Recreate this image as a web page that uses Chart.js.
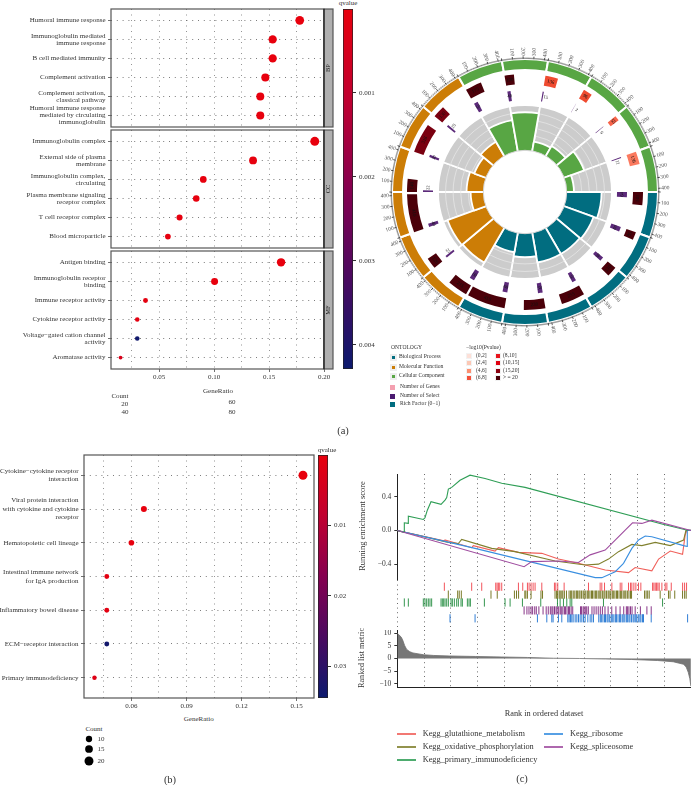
<!DOCTYPE html>
<html><head><meta charset="utf-8">
<script src="https://cdn.jsdelivr.net/npm/chart.js@4"></script>
<style>
html,body{margin:0;padding:0;background:#fff;width:691px;height:785px;overflow:hidden}
#page{position:relative;width:691px;height:785px;overflow:hidden;background:#fff;filter:blur(0.3px)}
canvas{position:absolute}
.t{position:absolute;white-space:pre;font-family:"Liberation Serif",serif;line-height:1;color:#333}
.b{position:absolute}
</style></head><body><div id="page"></div>
<script>
// ---------- panel (a) dot plot ----------
const bpLabels=["Humoral immune response",["Immunoglobulin mediated","immune response"],"B cell mediated immunity","Complement activation",["Complement activation,","classical pathway"],["Humoral immune response","mediated by circulating","immunoglobulin"]];
const ccLabels=["Immunoglobulin complex",["External side of plasma","membrane"],["Immunoglobulin complex,","circulating"],["Plasma membrane signaling","receptor complex"],"T cell receptor complex","Blood microparticle"];
const mfLabels=["Antigen binding",["Immunoglobulin receptor","binding"],"Immune receptor activity","Cytokine receptor activity",["Voltage\u2212gated cation channel","activity"],"Aromatase activity"];
const bpRatio=[0.1779,0.1533,0.1533,0.1466,0.142,0.142];
const ccRatio=[0.1916,0.1354,0.0901,0.0837,0.0685,0.0579];
const mfRatio=[0.1609,0.1004,0.0375,0.03,0.03,0.0148];
const bpCount=[80,69,69,66,64,64];
const ccCount=[86,61,41,38,31,26];
const mfCount=[72,45,17,13,13,7];
const bpQ=[0.00001,0.00001,0.00001,0.00002,0.00002,0.00002];
const ccQ=[0.00001,0.00002,0.00002,0.00003,0.00005,0.00005];
const mfQ=[0.00001,0.00002,0.0001,0.00012,0.0042,0.0004];
const qTicksA=[0.001,0.002,0.003,0.004];
const qMaxA=0.00429;
// ---------- panel (a) GO circle ----------
const ontologyColors=["#016d80","#cc7d06","#58a644"];
const sectorCap=435;
const geneCount=[141,85,110,255,230,410,215,120,410,140,318,130,175,100,136,96,55,136];
const geneColors=["#4b0009","#4b0009","#4b0009","#4b0009","#4b0009","#4b0009","#4b0009","#4b0009","#4b0009","#4b0009","#7a0010","#7a0010","#4b0009","#4b0009","#ef4b30","#ef4b30","#f8644a","#fb7a5f"];
const selectCount=[64,60,50,50,58,60,60,25,40,22,30,25,50,40,15,2,6,11];
const richFactor=[0.77,0.69,0.66,0.66,0.52,0.43,0.88,0.90,0.28,0.37,0.27,0.36,0.69,0.84,0.21,0.25,0.47,0.16];
const richFull=[1,1,1,1,1,1,1,1,1,1,1,1,1,1,1,1,1,1];
const ringTicks=[100,200,300,400];
// ---------- panel (b) ----------
const keggLabels=[["Cytokine\u2212cytokine receptor","interaction"],["Viral protein interaction","with cytokine and cytokine","receptor"],"Hematopoietic cell lineage",["Intestinal immune network","for IgA production"],"Inflammatory bowel disease","ECM\u2212receptor interaction","Primary immunodeficiency"];
const keggRatio=[0.1534,0.0668,0.06,0.0466,0.0466,0.0466,0.0399];
const keggCount=[20,9,8,6,6,6,5];
const keggQ=[0.0001,0.0002,0.0003,0.001,0.001,0.0335,0.002];
const qTicksB=[0.01,0.02,0.03];
const qMaxB=0.0345;
const countLegend=[10,15,20];
const countLegendRow=[0,1,2.2];
// ---------- panel (c) ----------
const gseaNames=["Kegg_glutathione_metabolism","Kegg_oxidative_phosphorylation","Kegg_primary_immunodeficiency","Kegg_ribosome","Kegg_spliceosome"];
const gseaColors=["#f0605a","#80802e","#2f9e56","#3a8fe0","#a04ea0"];
const rugColors=["#f0414a","#6b6b10","#1f8a3c","#7a1f7a","#1a6fd0"];
const redRank=[0,9170,9180,14300,14600,18780,19420,23270,27750,30960,34800,39940,44420,45700,48900,50200,51800,52440,54800,55300,55640,56400];
const redES=[0,-0.126,-0.114,-0.205,-0.18,-0.245,-0.205,-0.26,-0.272,-0.34,-0.39,-0.47,-0.5,-0.44,-0.48,-0.34,-0.272,-0.245,-0.284,-0.055,0,0];
const oliveRank=[0,9800,11730,12370,18140,22630,30320,36090,38650,40580,42500,45060,46990,49550,52440,55000,55450,56400];
const oliveES=[0,-0.142,-0.155,-0.107,-0.213,-0.252,-0.363,-0.41,-0.4,-0.34,-0.252,-0.166,-0.18,-0.142,-0.18,-0.114,0,0];
const greenRank=[0,1346,1350,2115,2120,5000,5320,5770,6475,8400,9170,9490,9810,10450,12050,13975,16860,20060,24550,50830,55960];
const greenES=[0,-0.024,0.09,0.083,0.169,0.13,0.15,0.24,0.34,0.31,0.36,0.39,0.49,0.51,0.595,0.655,0.615,0.56,0.51,0.075,0];
const blueRank=[0,10000,14940,38020,39300,41860,43460,45060,46350,47630,48900,55000,55700,55710,56400];
const blueES=[0,-0.142,-0.213,-0.56,-0.56,-0.49,-0.39,-0.213,-0.114,-0.067,-0.075,-0.18,-0.19,0,0];
const purpleRank=[0,24360,25830,30960,34800,37050,39940,41860,43780,45190,46990,48900,56400];
const purpleES=[0,-0.43,-0.37,-0.363,-0.38,-0.29,-0.233,-0.114,0.004,0.09,0.083,0.122,0];
const redRug=[9040,14290,16220,18910,19170,19420,19680,20060,23270,24100,25000,25320,25700,26090,26470,27760,30190,30450,30830,32050,36730,38970,39290,39810,41220,42820,43140,44420,44810,45060,45450,45830,46340,46790,49040,49290,49550,49810,50060,50320,50830,51470,51790,52630,54810,55190,55570];
const oliveRug=[9800,11600,11900,12300,18000,19200,22500,22900,23300,24500,24700,25000,25700,27600,27900,30300,30600,30800,31100,31300,31600,31800,32100,32500,33000,33300,33500,33800,34100,34400,34600,34900,35100,35400,35700,35900,36200,36500,36700,37000,37300,37500,37800,38100,38300,38600,38900,39100,39400,39700,39900,40200,40500,40700,41000,41300,41500,41800,42100,42300,42600,42900,43100,43400,43700,43900,44200,44500,44800,45000,47500,47800,48100,48400,50500,52100,52400,53300,54800,55200,55500];
const greenRug=[1350,2120,5000,5320,5640,5960,6280,6600,8400,8650,8910,9170,9490,9810,10320,10580,10960,11410,11730,12240,12500,13460,13780,14040,16730,20700,21670,24040,27560,30770,31280,31920,32560,33200,33520,39610,50960];
const purpleRug=[24360,24900,25300,25700,26000,26400,26700,27200,28000,28600,29000,29400,29700,29900,30200,30500,30700,31000,31300,31500,31800,32100,32300,32600,32900,33100,33400,33700,35200,35400,35700,35900,36200,36400,36700,37400,37800,38200,38600,39000,39400,39900,40500,41200,42000,42800,43500,44000,44200,44500,44800,45100,45700,46700,47950,48780];
const blueRug=[10130,14940,26920,28720,29680,29930,30960,31600,32760,33010,33270,33520,33780,34170,34490,34810,35130,35450,35770,36090,36600,37050,37370,37690,38700,39000,39200,39500,39800,40000,40300,40500,40800,41100,41300,41600,41900,42100,42400,42700,42900,43200,43400,43700,44000,44200,44500,44700,45000,45300,45500,45800,46000,46300,46600,46800,47100,47300,48780,55770];
const metricRank=[0,300,700,1000,1400,1800,2400,3000,5000,7000,10000,15000,20000,25000,30000,35000,40000,45000,50000,53000,55000,55500,55900,56200,56400];
const metricValue=[10,9.4,8.6,7.5,5.2,3.6,2.7,2.2,1.5,1.2,1.0,0.8,0.6,0.4,0.1,0,-0.2,-0.4,-0.8,-1.3,-2.3,-3.4,-5.5,-8,-11];
// ---------- legends of the circle ----------
const ontologyNames=["Biological Process","Molecular Function","Cellular Component"];
const ringNames=["Number of Genes","Number of Select","Rich Factor (0\u22121)"];
const ringSwatch=["#f4a0b0","#4a1a70","#016d80"];
const pvalNames=["(0,2]","(2,4]","(4,6]","(6,8]","(8,10]","(10,15]","(15,20]","> = 20"];
const pvalColors=["#fde0d8","#fcc8b5","#fc8f70","#f4503a","#e8141c","#e00010","#8b000f","#4a0008"];

const SERIF='"Liberation Serif",serif';
const page=document.getElementById('page');
Chart.defaults.animation=false;
Chart.defaults.font.family=SERIF;
Chart.defaults.plugins.legend.display=false;
Chart.defaults.plugins.tooltip.enabled=false;
Chart.defaults.events=[];

function noPad(s){s.paddingLeft=0;s.paddingRight=0;s.paddingTop=0;s.paddingBottom=0;s._margins={left:0,right:0,top:0,bottom:0};}
function text(s,x,y,o={}){
  const d=document.createElement('div');d.className='t';d.textContent=s;
  d.style.fontSize=(o.size||7)+'px';
  if(o.color)d.style.color=o.color;
  const ax=o.align==='center'?'-50%':o.align==='right'?'-100%':'0';
  d.style.left=x+'px';d.style.top=y+'px';
  d.style.transform=`translate(${ax},-50%)`+(o.rot?` rotate(${o.rot}deg)`:'');
  d.style.transformOrigin=o.rot?'50% 50%':'';
  page.appendChild(d);return d;
}
function box(x,y,w,h,c,extra){
  const d=document.createElement('div');d.className='b';
  d.style.cssText=`left:${x}px;top:${y}px;width:${w}px;height:${h}px;background:${c};`+(extra||'');
  page.appendChild(d);return d;
}
function cv(left,top,w,h){
  const c=document.createElement('canvas');c.width=Math.round(w);c.height=Math.round(h);
  c.style.left=left+'px';c.style.top=top+'px';c.style.width=Math.round(w)+'px';c.style.height=Math.round(h)+'px';
  page.appendChild(c);return c;
}
const stops=[[0,[232,0,13]],[0.25,[192,0,48]],[0.5,[133,0,80]],[0.75,[74,10,96]],[1,[12,26,110]]];
function qColor(t){
  t=Math.max(0,Math.min(1,t));
  for(let i=1;i<stops.length;i++){
    if(t<=stops[i][0]){
      const a=stops[i-1],b=stops[i],f=(t-a[0])/(b[0]-a[0]);
      const c=a[1].map((v,k)=>Math.round(v+(b[1][k]-v)*f));
      return `rgb(${c[0]},${c[1]},${c[2]})`;
    }
  }
  return 'rgb(12,26,110)';
}
function framePlugin(strip){
  return {id:'frame',afterDraw(ch){
    const a=ch.chartArea,c=ch.ctx;c.save();
    c.strokeStyle='#555';c.lineWidth=1.2;
    c.strokeRect(a.left,a.top,a.width,a.height);
    if(strip){
      c.fillStyle='#b0b0b0';c.fillRect(a.right,a.top,9,a.height);
      c.strokeRect(a.right,a.top,9,a.height);
      c.strokeStyle='#111';c.lineWidth=1;
      c.beginPath();c.moveTo(a.right,a.top);c.lineTo(a.right,a.bottom);c.stroke();
      c.translate(a.right+4.7,(a.top+a.bottom)/2);c.rotate(-Math.PI/2);
      c.fillStyle='#222';c.font='6.5px '+SERIF;c.textAlign='center';c.textBaseline='middle';
      c.fillText(strip,0,0);
    }
    c.restore();
  }};
}
function isMajor(v,m){const r=Math.abs(v/m-Math.round(v/m));return r<1e-6;}
function dotChart(o){
  const rightPad=o.strip?10:2, topPad=2, bottomSpace=o.showX?13:2;
  const c=cv(0,o.top-topPad,Math.ceil(o.right+rightPad),Math.ceil(o.bottom-o.top+topPad+bottomSpace));
  return new Chart(c,{type:'scatter',
    data:{datasets:[{data:o.ratio.map((x,i)=>({x,y:i})),
      pointRadius:o.count.map(o.rad),
      pointBackgroundColor:o.q.map(v=>qColor(v/o.qMax)),
      pointBorderWidth:0,clip:false}]},
    options:{responsive:false,maintainAspectRatio:false,
      layout:{autoPadding:false,padding:{top:topPad,right:rightPad,left:0,bottom:c.height-topPad-(o.bottom-o.top)-bottomSpace}},
      scales:{
        x:{type:'linear',min:o.xMin,max:o.xMax,
          afterFit(s){s.height=bottomSpace;noPad(s);},
          border:{display:false,dash:[1,4.5]},
          grid:{color:'#666',lineWidth:.7,tickLength:3,tickBorderDash:[],drawTicks:true,
            tickColor:t=>(o.showX&&t.tick&&isMajor(t.tick.value,o.major))?'#333':'rgba(0,0,0,0)'},
          ticks:{display:o.showX,stepSize:o.xStep,includeBounds:false,autoSkip:false,maxRotation:0,padding:1,
            color:'#333',font:{size:7,family:SERIF},
            callback:v=>isMajor(v,o.major)?v.toFixed(o.xDigits):''}},
        y:{type:'linear',reverse:true,min:o.yMin,max:o.yMax,
          afterFit(s){s.width=o.left;noPad(s);},
          border:{display:false,dash:[1,4.8]},
          grid:{color:'#444',lineWidth:.7,tickLength:3,tickColor:'#333',tickBorderDash:[]},
          ticks:{stepSize:1,includeBounds:false,autoSkip:false,padding:2.5,color:'#333',
            font:{size:7,family:SERIF,lineHeight:o.lineH},
            callback:v=>o.labels[v]}}
      }},
    plugins:[framePlugin(o.strip)]});
}
function colorBar(x,yTop,yBot,max,ticks,digits){
  const c=cv(x-1,yTop-2,50,Math.ceil(yBot-yTop+4));
  return new Chart(c,{type:'bar',
    data:{labels:[''],datasets:[{data:[[0,max]],barPercentage:1,categoryPercentage:1,
      borderColor:'#222',borderWidth:1,borderSkipped:false,
      backgroundColor(ctx){
        const a=ctx.chart.chartArea;if(!a)return '#e8000d';
        const g=ctx.chart.ctx.createLinearGradient(0,a.top,0,a.bottom);
        stops.forEach(s=>g.addColorStop(s[0],qColor(s[0])));return g;}}]},
    options:{responsive:false,maintainAspectRatio:false,
      layout:{autoPadding:false,padding:{top:2,bottom:2,left:1,right:0}},
      scales:{x:{display:false},
        y:{position:'right',reverse:true,min:0,max:max,
          afterFit(s){s.width=39;noPad(s);},
          afterBuildTicks(s){s.ticks=ticks.map(v=>({value:v}));},
          border:{display:false},
          grid:{drawOnChartArea:false,tickLength:3,tickColor:'#333'},
          ticks:{padding:3,color:'#333',font:{size:7,family:SERIF},callback:v=>v.toFixed(digits)}}}}});
}
// ---- panel a
const radA=c=>0.86+0.393*Math.sqrt(c);
const base={left:111,right:324,xMin:0.0061,xMax:0.2,xStep:0.025,major:0.05,xDigits:2,rad:radA,qMax:qMaxA,lineH:1,yMin:-0.595,yMax:5.6};
dotChart({...base,top:9,bottom:127,labels:bpLabels,ratio:bpRatio,count:bpCount,q:bpQ,strip:'BP',showX:false});
dotChart({...base,top:130,bottom:248,labels:ccLabels,ratio:ccRatio,count:ccCount,q:ccQ,strip:'CC',showX:false});
dotChart({...base,top:251,bottom:369,labels:mfLabels,ratio:mfRatio,count:mfCount,q:mfQ,strip:'MF',showX:true});
colorBar(343,9,369,qMaxA,qTicksA,3);
text('qvalue',348,3,{align:'center',size:7});
text('GeneRatio',218,390.5,{align:'center'});
text('Count',120,395.7,{align:'center'});
text('20',124.7,404,{align:'center'});text('40',125,412.3,{align:'center'});
text('60',232,402.3,{align:'center'});text('80',232,412,{align:'center'});
text('(a)',343,431,{align:'center',size:10.5});

// ---- circle: wedges
const polarCanvas=cv(438,105,174,174);
new Chart(polarCanvas,{type:'polarArea',
  data:{labels:richFactor.map((_,i)=>i),datasets:[
    {data:richFactor,backgroundColor:richFactor.map((_,i)=>ontologyColors[Math.floor(i/6)]),borderColor:'#fff',borderWidth:1.8},
    {data:richFull,backgroundColor:'#cccccc',borderColor:'#fff',borderWidth:1.8}]},
  options:{responsive:false,maintainAspectRatio:false,layout:{autoPadding:false,padding:0},
    scales:{r:{display:false,min:-0.92,max:1,startAngle:90,ticks:{stepSize:1/6,display:false},pointLabels:{display:false}}}},
  plugins:[{id:'rings',
    afterDatasetDraw(ch,args){
      if(args.index!==1)return;
      const s=ch.scales.r,c=ch.ctx;c.save();c.strokeStyle='#e9e9e9';c.lineWidth=.7;
      s.ticks.filter(t=>t.value>0.05&&t.value<0.95).forEach(t=>{
        c.beginPath();c.arc(s.xCenter,s.yCenter,s.getDistanceFromCenterForValue(t.value),0,Math.PI*2);c.stroke();});
      c.restore();},
    afterDatasetsDraw(ch){
      const s=ch.scales.r,c=ch.ctx;c.save();
      c.fillStyle='#fff';c.strokeStyle='#d5d5d5';c.lineWidth=1;
      c.beginPath();c.arc(s.xCenter,s.yCenter,s.getDistanceFromCenterForValue(0),0,Math.PI*2);c.fill();c.stroke();c.restore();}
  }]});
// ---- circle: rings
function ring(values){const a=[];values.forEach(v=>{a.push(v,sectorCap-v);});return a;}
function ringColors(cols){const a=[];cols.forEach(k=>{a.push(k,'rgba(0,0,0,0)');});return a;}
const ringCanvas=cv(365,32,320,320);
new Chart(ringCanvas,{type:'doughnut',
  data:{labels:[],datasets:[
    {data:richFull.map(()=>sectorCap),weight:11,backgroundColor:richFull.map((_,i)=>ontologyColors[Math.floor(i/6)]),borderColor:'#fff',borderWidth:2},
    {data:[],weight:4},
    {data:ring(geneCount),weight:10,backgroundColor:ringColors(geneColors),borderWidth:0},
    {data:[],weight:6},
    {data:ring(selectCount),weight:10,backgroundColor:ringColors(selectCount.map(()=>'#5c2a7a')),borderWidth:0}]},
  options:{responsive:false,maintainAspectRatio:false,rotation:90,radius:133,cutout:(92/133*100)+'%',layout:{autoPadding:false,padding:0}},
  plugins:[{id:'ringMarks',afterDraw(ch){
    const c=ch.ctx;c.save();
    const outer=ch.getDatasetMeta(0).data;
    outer.forEach(a=>{
      const span=a.endAngle-a.startAngle, R=a.outerRadius;
      c.strokeStyle='#111';
      for(let v=0;v<=sectorCap;v+=10){
        const th=a.startAngle+span*v/sectorCap, big=(v%100===0);
        c.lineWidth=big?.8:.5;
        c.beginPath();c.moveTo(a.x+Math.cos(th)*R,a.y+Math.sin(th)*R);
        c.lineTo(a.x+Math.cos(th)*(R+(big?2.6:1.4)),a.y+Math.sin(th)*(R+(big?2.6:1.4)));c.stroke();
      }
      c.fillStyle='#555';c.font='5.5px '+SERIF;c.textBaseline='middle';
      ringTicks.forEach(v=>{
        const th=a.startAngle+span*v/sectorCap;
        const cs=Math.cos(th),sn=Math.sin(th);
        c.save();c.translate(a.x+cs*(R+3.2),a.y+sn*(R+3.2));
        if(cs>=0){c.rotate(th);c.textAlign='left';}else{c.rotate(th+Math.PI);c.textAlign='right';}
        c.fillText(String(v),0,0);c.restore();
      });
    });
    function barLabels(idx,vals,size,shift){
      const arcs=ch.getDatasetMeta(idx).data;
      c.fillStyle='#111';c.font=size+'px '+SERIF;c.textAlign='center';c.textBaseline='middle';
      vals.forEach((v,i)=>{
        const a=arcs[i*2],mid=(a.startAngle+a.endAngle)/2,r=(a.innerRadius+a.outerRadius)/2;
        const th=mid+(shift&&v<30?3.5/r:0),cs=Math.cos(th),sn=Math.sin(th);
        c.save();c.translate(a.x+cs*r,a.y+sn*r);
        c.rotate(sn>0?th-Math.PI/2:th+Math.PI/2);
        c.fillText(String(v),0,0);c.restore();
      });
    }
    barLabels(2,geneCount,5,false);
    barLabels(4,selectCount,4.6,true);
    c.restore();
  }}]});
// ---- circle legend
text('ONTOLOGY',391,348,{size:5.6});
ontologyNames.forEach((n,i)=>{
  const y=[357,367,376][i];
  box(389.5,y-3.5,7,7,'#eee');box(391.5,y-1.5,3,3,ontologyColors[i]);
  text(n,399,y,{size:5.6});
});
ringNames.forEach((n,i)=>{
  const y=[387,396,404][i];
  box(390,y-2.5,5,5,ringSwatch[i]);
  text(n,400,y,{size:5.6});
});
text('\u2212log10(Pvalue)',466,348,{size:5.6});
pvalNames.forEach((n,i)=>{
  const col=i<4?0:1,row=i%4,y=356+row*7.4,x=col?497.3:469;
  box(x-2.8,y-3,6,6,'#f2f2f2');box(x-1.8,y-2,4,4,pvalColors[i]);
  text(n,col?503:476,y,{size:5.6});
});

// ---- panel b
dotChart({left:84,right:313.3,top:455.3,bottom:698.3,xMin:0.0342,xMax:0.1594,xStep:0.015,major:0.03,xDigits:2,
  rad:c=>Math.sqrt(c),qMax:qMaxB,lineH:1.2,yMin:-0.6,yMax:6.6,labels:keggLabels,ratio:keggRatio,count:keggCount,q:keggQ,strip:null,showX:true});
colorBar(318.3,455.3,698,qMaxB,qTicksB,2);
text('qvalue',327,450,{align:'center'});
text('GeneRatio',198.7,718.7,{align:'center'});
text('Count',94,729,{align:'center',size:7});
new Chart(cv(78,733,22,34),{type:'scatter',
  data:{datasets:[{data:countLegend.map((_,i)=>({x:0,y:countLegendRow[i]})),
    pointRadius:countLegend.map(c=>Math.sqrt(c)),pointBackgroundColor:'#000',pointBorderWidth:0,clip:false}]},
  options:{responsive:false,maintainAspectRatio:false,layout:{autoPadding:false,padding:0},
    scales:{x:{display:false,min:-1.1,max:1.1},y:{display:false,reverse:true,min:-0.6,max:2.8}}}});
countLegend.forEach((v,i)=>text(String(v),97.5,739+countLegendRow[i]*10,{}));
text('(b)',170,780,{align:'center',size:10.5});

// ---- panel c
const xMaxC=56423;
function xAxisC(showLabels,h){
  return {type:'linear',min:0,max:xMaxC,afterFit(s){s.height=h;noPad(s);},
    border:{display:showLabels,color:'#222',dash:[1,3.6]},
    grid:{color:'#444',lineWidth:.8,tickLength:3,tickBorderDash:[],
      tickColor:t=>(showLabels&&t.tick&&t.tick.value%10000===0&&t.tick.value>0)?'#333':'rgba(0,0,0,0)'},
    ticks:{display:showLabels,stepSize:5000,includeBounds:false,autoSkip:false,maxRotation:0,padding:3,color:'#333',font:{size:7.5,family:SERIF},
      callback:v=>(v%10000===0&&v>0)?String(v):''}};
}
function yAxisC(min,max,step,fmt,showLine){
  return {type:'linear',min,max,afterFit(s){s.width=57.3;noPad(s);},
    border:{display:showLine,color:'#222',width:1},
    grid:{drawOnChartArea:false,drawTicks:!!step,tickLength:3,tickColor:'#333'},
    ticks:{display:!!step,stepSize:step||1,includeBounds:false,padding:3,color:'#333',font:{size:7.5,family:SERIF},callback:fmt}};
}
function esData(r,e){return r.map((x,i)=>({x,y:e[i]}));}
new Chart(cv(340,472,351,108),{type:'scatter',
  data:{datasets:[
    {d:[purpleRank,purpleES],c:4},{d:[greenRank,greenES],c:2},{d:[blueRank,blueES],c:3},{d:[oliveRank,oliveES],c:1},{d:[redRank,redES],c:0}
  ].map(o=>({data:esData(o.d[0],o.d[1]),showLine:true,pointRadius:0,borderWidth:1.1,borderColor:gseaColors[o.c],fill:false}))},
  options:{responsive:false,maintainAspectRatio:false,layout:{autoPadding:false,padding:{top:2,right:0,bottom:0,left:0}},
    scales:{x:xAxisC(false,0),y:yAxisC(-0.588,0.669,0.4,v=>{const a=v.toFixed(1);return v<0?'\u2212'+a.slice(1):a;},true)}}});
const rugSets=[redRug,oliveRug,greenRug,purpleRug,blueRug];
new Chart(cv(340,580,351,50),{type:'scatter',
  data:{datasets:rugSets.map((r,k)=>({data:r.map(x=>({x,y:k})),pointStyle:'line',rotation:90,pointRadius:4.1,
    pointBorderColor:rugColors[k],pointBorderWidth:.9,showLine:false}))},
  options:{responsive:false,maintainAspectRatio:false,layout:{autoPadding:false,padding:0},
    scales:{x:xAxisC(false,0),y:{...yAxisC(-0.85,5.48,0,()=>'',false),reverse:true}}}});
new Chart(cv(340,630,351,75),{type:'scatter',
  data:{datasets:[{data:esData(metricRank,metricValue),showLine:true,pointRadius:0,borderWidth:.8,borderColor:'#6e6e6e',backgroundColor:'#777',fill:{value:0}}]},
  options:{responsive:false,maintainAspectRatio:false,layout:{autoPadding:false,padding:0},
    scales:{x:xAxisC(true,17.7),y:yAxisC(-11.43,11.3,5,v=>v<0?'\u2212'+Math.abs(v):String(v),true)}}});
text('Running enrichment score',362,526,{align:'center',rot:-90,size:8.5});
text('Ranked list metric',362,658,{align:'center',rot:-90,size:8.2});
text('Rank in ordered dataset',544,713.7,{align:'center',size:8.3});
const legX=[397,397,397,544,544],legY=[733,746,759,733,746];
const legT=[422.7,422.7,422.7,570,570];
gseaNames.forEach((n,i)=>{box(legX[i],legY[i]-.5,19,2,gseaColors[i],'opacity:.85');text(n,legT[i],legY[i]+.5,{size:8.3});});
text('(c)',522,779,{align:'center',size:10.5});
</script></body></html>
